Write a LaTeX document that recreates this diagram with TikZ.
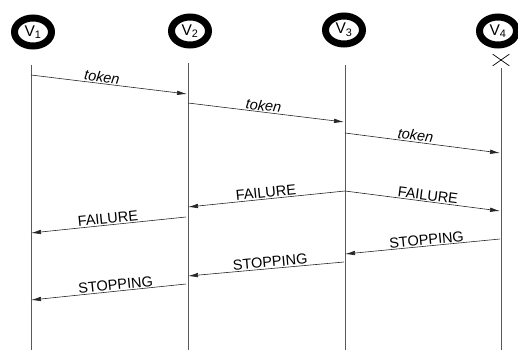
\documentclass[tikz,border=0pt]{standalone}
\usepackage{fontspec}
\setmainfont{Liberation Sans}
\usepackage{tikz}
\usetikzlibrary{positioning,arrows.meta,calc,shapes.geometric,shapes.misc}

\begin{document}
\begin{tikzpicture}[x=1pt, y=-1pt,
  proc/.style={ellipse, draw, line width=7pt, minimum width=37pt, minimum height=28pt, inner sep=0pt, font=\fontsize{15.5}{17}\selectfont},
  life/.style={draw=gray!70!black, line width=0.7pt},
  msg/.style={-{Latex[length=10pt,width=4.5pt]}, line width=0.6pt, draw=black!85},
  lab/.style={sloped, above, inner sep=1pt, font=\fontsize{14.5}{16}\selectfont},
  tok/.style={lab, font=\fontsize{14.5}{16}\selectfont\itshape}]
\useasboundingbox (0,0) rectangle (518,350);
% processes
\node[proc] (v1) at (33,32) {V\textsubscript{1}};
\node[proc] (v2) at (190,31) {V\textsubscript{2}};
\node[proc] (v3) at (344,30) {V\textsubscript{3}};
\node[proc] (v4) at (498,31) {V\textsubscript{4}};
\node[cross out, draw, line width=0.7pt, minimum width=16pt, minimum height=11pt, inner sep=0pt] (x4) at (501,60) {};
% lifelines
\foreach \n/\x/\y in {1/31/65, 2/188/63, 3/345/65, 4/501/68} {
  \coordinate (top\n) at (\x,\y);
  \coordinate (bot\n) at (\x,350);
  \draw[life] (top\n) -- (bot\n);
}
% message ends
\foreach \n/\x/\y in {t1a/31/75, t1b/187/94, t2a/188/103, t2b/344/122, t3a/345/133, t3b/500/153,
    f1a/345/191, f1b/188/207, f2b/500/211, f3a/186/217, f3b/31/233,
    s1a/500/239, s1b/345/254, s2a/344/262, s2b/188/276, s3a/186/284, s3b/31/300}
  \coordinate (\n) at (\x,\y);
% token
\draw[msg] (t1a) -- (t1b) node[tok, pos=0.45] {token};
\draw[msg] (t2a) -- (t2b) node[tok, pos=0.48] {token};
\draw[msg] (t3a) -- (t3b) node[tok, pos=0.45] {token};
% failure
\draw[msg] (f1a) -- (f1b) node[lab, pos=0.5] {FAILURE};
\draw[msg] (f1a) -- (f2b) node[lab, pos=0.53] {FAILURE};
\draw[msg] (f3a) -- (f3b) node[lab, pos=0.5] {FAILURE};
% stopping
\draw[msg] (s1a) -- (s1b) node[lab, pos=0.47] {STOPPING};
\draw[msg] (s2a) -- (s2b) node[lab, pos=0.47] {STOPPING};
\draw[msg] (s3a) -- (s3b) node[lab, pos=0.45] {STOPPING};
\end{tikzpicture}
\end{document}
